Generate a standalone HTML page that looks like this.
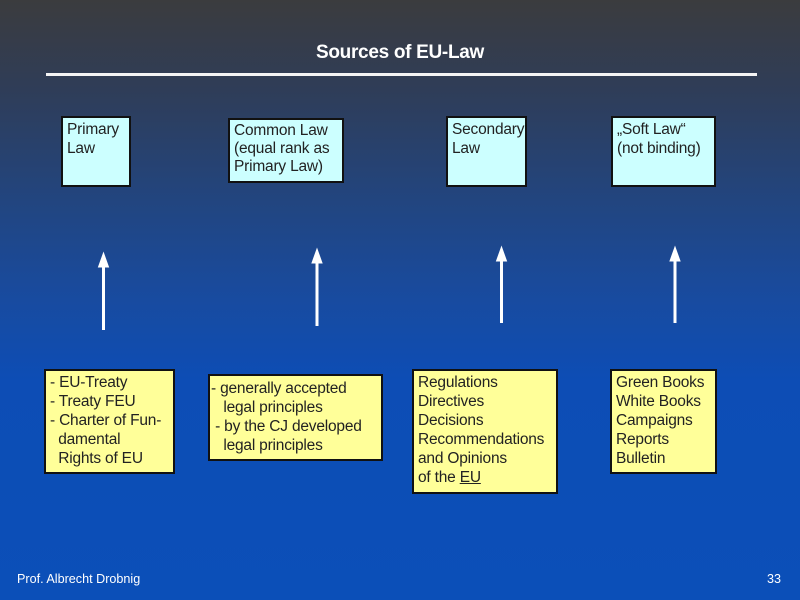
<!DOCTYPE html>
<html><head><meta charset="utf-8"><style>
html,body{margin:0;padding:0}
body{width:800px;height:600px;position:relative;overflow:hidden;
background:linear-gradient(to bottom,#3b3c3e 0px,#2f3d58 90px,#22457f 200px,#184ba0 300px,#0d4db5 380px,#0b4fb8 600px);
font-family:"Liberation Sans",Arial,sans-serif;}
.t{position:absolute;left:0;width:800px;top:42px;text-align:center;color:#fff;font-weight:bold;font-size:19px;letter-spacing:-0.3px}
.hr{position:absolute;left:46px;top:73px;width:711px;height:3px;background:#f4f4f4}
.b{position:absolute;box-sizing:border-box;border:2px solid #111;color:#222;font-size:15.5px;line-height:19px;padding:2px 4px;white-space:nowrap;letter-spacing:-0.2px}
.c{background:#ccffff}
.y{background:#ffff99}
.f{position:absolute;color:#fff;font-size:12.6px;top:572px}
</style></head><body>
<div class="t">Sources of EU-Law</div>
<div class="hr"></div>

<div class="b c" style="left:61px;top:116px;width:70px;height:71px">Primary<br>Law</div>
<div class="b c" style="left:228px;top:118px;width:116px;height:65px;line-height:18px">Common Law<br>(equal rank as<br>Primary Law)</div>
<div class="b c" style="left:446px;top:116px;width:81px;height:71px">Secondary<br>Law</div>
<div class="b c" style="left:611px;top:116px;width:105px;height:71px">„Soft Law“<br>(not binding)</div>

<svg style="position:absolute;left:0;top:0" width="800" height="600">
<g stroke="#fff" stroke-width="3" fill="#fff">
<line x1="103.5" y1="330" x2="103.5" y2="262"/><polygon points="103.5,253 98.5,267 108.5,267" stroke-width="1"/>
<line x1="317" y1="326" x2="317" y2="258"/><polygon points="317,249 312,263 322,263" stroke-width="1"/>
<line x1="501.5" y1="323" x2="501.5" y2="256"/><polygon points="501.5,247 496.5,261 506.5,261" stroke-width="1"/>
<line x1="675" y1="323" x2="675" y2="256"/><polygon points="675,247 670,261 680,261" stroke-width="1"/>
</g></svg>

<div class="b y" style="left:44px;top:369px;width:131px;height:105px;padding-left:4px">- EU-Treaty<br>- Treaty FEU<br>- Charter of Fun-<br>&nbsp;&nbsp;damental<br>&nbsp;&nbsp;Rights of EU</div>
<div class="b y" style="left:208px;top:374px;width:175px;height:87px;padding-left:1px;padding-top:3px">- generally accepted<br>&nbsp;&nbsp;&nbsp;legal principles<br>&nbsp;- by the CJ developed<br>&nbsp;&nbsp;&nbsp;legal principles</div>
<div class="b y" style="left:412px;top:369px;width:146px;height:125px">Regulations<br>Directives<br>Decisions<br>Recommendations<br>and Opinions<br>of the <u>EU</u></div>
<div class="b y" style="left:610px;top:369px;width:107px;height:105px">Green Books<br>White Books<br>Campaigns<br>Reports<br>Bulletin</div>

<div class="f" style="left:17px">Prof. Albrecht Drobnig</div>
<div class="f" style="left:767px">33</div>
</body></html>
